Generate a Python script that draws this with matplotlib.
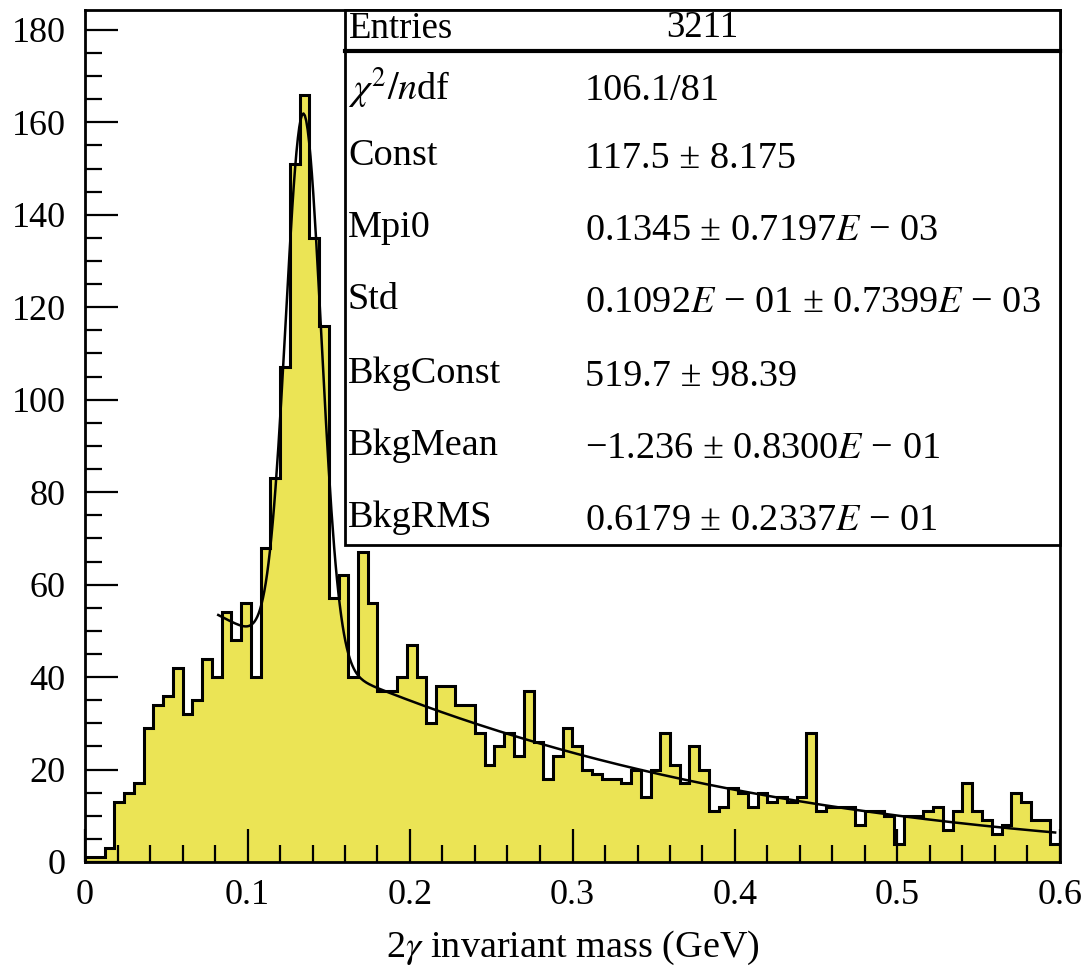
import numpy as np
import matplotlib
matplotlib.use('Agg')
import matplotlib.pyplot as plt
from matplotlib.patches import Rectangle
from matplotlib.lines import Line2D

plt.rcParams['font.family'] = ['Liberation Serif', 'DejaVu Serif']
plt.rcParams['mathtext.fontset'] = 'stix'

# histogram: 100 bins between 0 and 0.6 GeV
bin_lo = 0.0
bin_hi = 0.6
counts = [1, 1, 3, 13, 15, 17, 29, 34, 36, 42,
          32, 35, 44, 40, 54, 48, 56, 40, 68, 83,
          107, 151, 166, 135, 116, 57, 62, 40, 67, 56,
          37, 37, 40, 47, 40, 30, 38, 38, 34, 34,
          28, 21, 25, 28, 23, 37, 26, 18, 23, 29,
          25, 20, 19, 18, 18, 17, 20, 14, 20, 28,
          21, 17, 25, 20, 11, 12, 16, 15, 12, 15,
          13, 14, 13, 14, 28, 11, 12, 12, 12, 8,
          11, 11, 10, 4, 10, 10, 11, 12, 7, 11,
          17, 11, 9, 6, 8, 15, 13, 9, 9, 4]

# fit parameters from the stats box (gauss signal + gauss background)
fit_const, fit_mean, fit_std = 117.5, 0.1345, 0.1092e-01
bkg_const, bkg_mean, bkg_rms = 519.7, -1.236, 0.6179
fit_range = (0.082, 0.597)

stat_names = ['$\\chi^{2}/n$df', 'Const', 'Mpi0', 'Std', 'BkgConst', 'BkgMean', 'BkgRMS']
stat_values = ['106.1/81',
               '117.5 ± 8.175',
               '0.1345 ± 0.7197$E$ − 03',
               '0.1092$E$ − 01 ± 0.7399$E$ − 03',
               '519.7 ± 98.39',
               '−1.236 ± 0.8300$E$ − 01',
               '0.6179 ± 0.2337$E$ − 01']
entries = '3211'

W, H = 1086, 977
fig = plt.figure(figsize=(W / 100, H / 100), dpi=100)
ax = fig.add_axes([85 / W, 1 - 862 / H, (1060 - 85) / W, (862 - 10) / H])

edges = np.linspace(bin_lo, bin_hi, len(counts) + 1)
ax.stairs(counts, edges, fill=True, color='#ebe455', zorder=1)
ax.stairs(counts, edges, color='black', lw=2.2, zorder=2)

xf = np.linspace(fit_range[0], fit_range[1], 600)
yf = (fit_const * np.exp(-0.5 * ((xf - fit_mean) / fit_std) ** 2)
      + bkg_const * np.exp(-0.5 * ((xf - bkg_mean) / bkg_rms) ** 2))
ax.plot(xf, yf, color='black', lw=1.8, zorder=3)

ax.set_xlim(0, 0.6)
ax.set_ylim(0, 184.3)
ax.set_xticks(np.arange(0, 0.61, 0.1))
ax.set_xticklabels(['0', '0.1', '0.2', '0.3', '0.4', '0.5', '0.6'])
ax.set_xticks(np.arange(0, 0.601, 0.02), minor=True)
ax.set_yticks(np.arange(0, 181, 20))
ax.set_yticks(np.arange(0, 185, 5), minor=True)
ax.tick_params(which='both', direction='in', width=1.6, labelsize=26,
               top=False, right=False)
ax.tick_params(which='major', length=24)
ax.tick_params(which='minor', length=12)
ax.tick_params(axis='x', pad=12)
ax.tick_params(axis='y', pad=14)
for s in ax.spines.values():
    s.set_linewidth(2)
ax.set_xlabel('2$\\gamma$ invariant mass (GeV)', fontsize=27.5, labelpad=12)

# stats box drawn in pixel coordinates of the figure
def fx(px):
    return px / W

def fy(py):
    return 1 - py / H

box_l, box_r, box_t, box_b, row_b = 345, 1060, 10, 545, 51
fig.patches.append(Rectangle((fx(box_l), fy(box_b)), fx(box_r) - fx(box_l), fy(box_t) - fy(box_b),
                             transform=fig.transFigure, facecolor='white', edgecolor='black',
                             lw=2, zorder=5))
fig.lines.append(Line2D([fx(box_l), fx(box_r)], [fy(row_b), fy(row_b)],
                        transform=fig.transFigure, color='black', lw=3, zorder=6))

fs = 27.5
fig.text(fx(349), fy(29), 'Entries', fontsize=fs - 1, va='center', ha='left', zorder=7)
fig.text(fx(702), fy(28), entries, fontsize=fs - 1, va='center', ha='center', zorder=7)
row_y = [88, 156, 228, 300, 374, 446, 518]
for name, val, y in zip(stat_names, stat_values, row_y):
    fig.text(fx(348), fy(y), name, fontsize=fs, va='center', ha='left', zorder=7)
    fig.text(fx(585), fy(y + 3), val, fontsize=fs, va='center', ha='left', zorder=7)

fig.savefig('out.png', dpi=100)
